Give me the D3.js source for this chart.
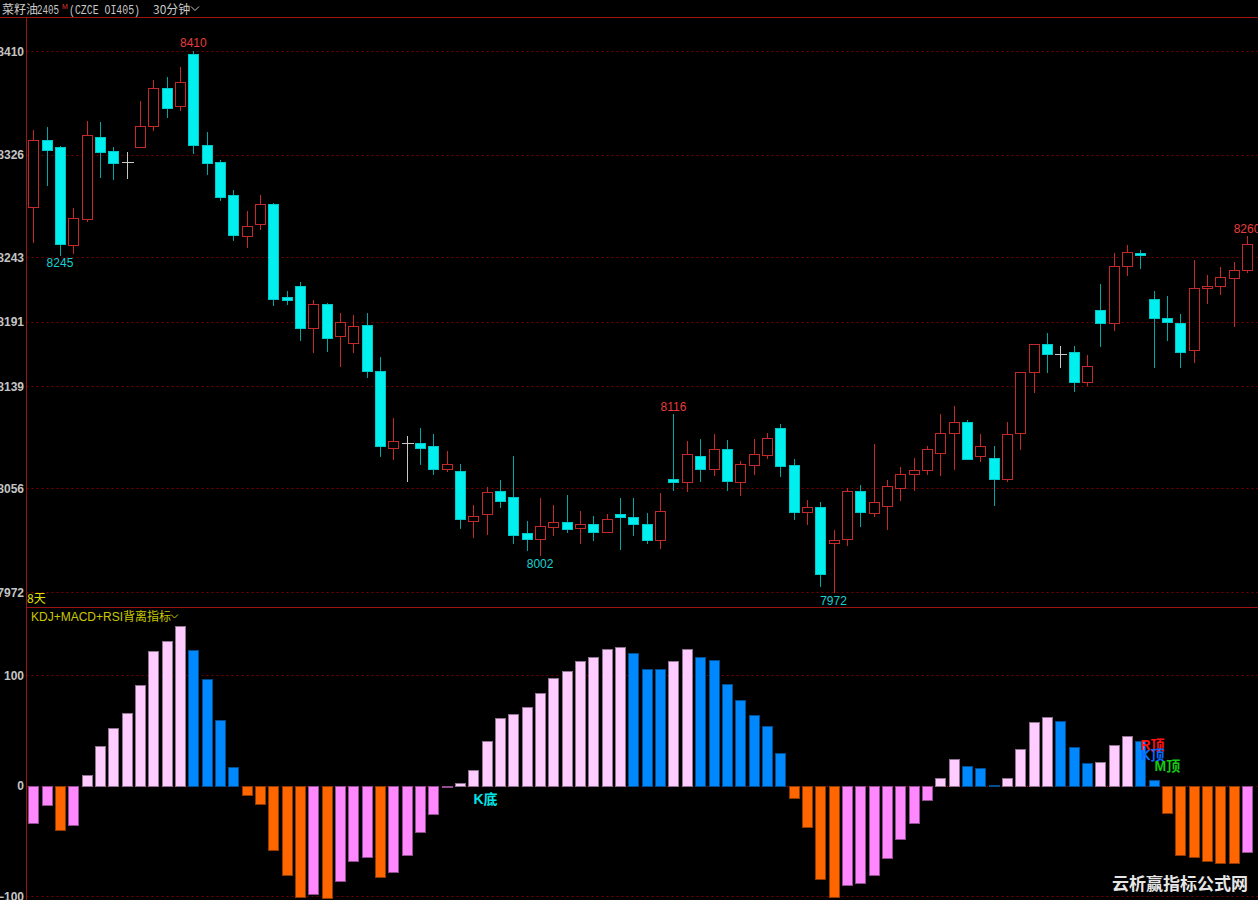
<!DOCTYPE html>
<html><head><meta charset="utf-8">
<script src="https://cdn.jsdelivr.net/npm/d3@7"></script>
<style>html,body{margin:0;padding:0;background:#000;overflow:hidden}</style>
</head><body>
<svg id="c" width="1258" height="900"></svg>
<script>
// ---- data ----
const opens  = [8284,8338,8332,8253,8274,8340,8329,8320,8332,8349,8380,8365,8407,8334,8320,8293,8260,8270,8286,8211,8220,8186,8205,8179,8174,8188,8151,8089,8093,8093,8090,8072,8070,8030,8035,8054,8049,8020,8015,8025,8029,8024,8027,8021,8035,8033,8027,8014,8064,8061,8082,8072,8088,8061,8075,8083,8105,8075,8037,8041,8012,8015,8054,8036,8042,8056,8068,8071,8085,8101,8110,8082,8081,8064,8101,8150,8173,8165,8166,8142,8200,8190,8236,8246,8209,8194,8190,8168,8218,8220,8226,8233];
const highs  = [8346,8348,8333,8283,8353,8352,8332,8328,8369,8386,8389,8397,8410,8344,8322,8297,8280,8293,8287,8216,8223,8208,8206,8198,8196,8198,8162,8113,8098,8105,8100,8086,8076,8043,8057,8063,8082,8030,8048,8043,8051,8038,8034,8035,8048,8048,8036,8052,8116,8094,8096,8100,8095,8078,8096,8101,8108,8080,8047,8045,8022,8056,8059,8092,8063,8073,8081,8090,8116,8123,8111,8100,8090,8110,8150,8173,8182,8171,8171,8164,8221,8246,8253,8249,8216,8212,8197,8241,8229,8235,8239,8260];
const lows   = [8255,8301,8245,8246,8272,8308,8306,8307,8332,8346,8356,8362,8327,8310,8289,8257,8251,8266,8204,8205,8176,8166,8167,8155,8166,8146,8082,8080,8062,8076,8068,8070,8024,8017,8019,8041,8012,8006,8002,8018,8021,8012,8014,8021,8007,8018,8012,8008,8055,8054,8062,8067,8055,8051,8068,8081,8066,8031,8027,7977,7972,8010,8026,8034,8023,8047,8055,8068,8067,8072,8080,8078,8043,8062,8088,8134,8150,8154,8135,8140,8171,8184,8229,8234,8154,8176,8154,8158,8206,8213,8187,8231];
const closes = [8338,8330,8254,8275,8342,8328,8319,8320,8349,8380,8364,8385,8334,8319,8292,8261,8268,8286,8209,8208,8186,8205,8178,8191,8187,8151,8090,8094,8093,8089,8072,8076,8031,8034,8053,8046,8018,8015,8026,8029,8023,8027,8021,8031,8033,8027,8014,8038,8061,8084,8072,8088,8062,8076,8084,8097,8074,8037,8041,7987,8014,8054,8037,8045,8058,8068,8071,8088,8101,8110,8080,8090,8064,8100,8150,8173,8165,8165,8142,8155,8190,8236,8247,8245,8194,8191,8166,8218,8220,8227,8233,8254];
const signal = [-33.8,-18.1,-40.4,-36.2,9.4,36,52,66.1,91.5,122.3,130.8,144.9,122.9,96.4,59.5,17.2,-9,-16.9,-58.5,-80.9,-100.8,-98.7,-102,-86.3,-68.2,-64.6,-82.7,-78.5,-63.4,-42.2,-25.9,-1.2,2.2,14.2,40.2,61.6,64.9,71,83.7,97.6,104.2,112.7,116.8,123.6,125.4,119.9,106,105.4,112.7,124.1,116.8,114.2,92.1,77.6,63.8,54.1,29.3,-10.9,-38,-84.5,-101.4,-90,-88.1,-80.9,-65.8,-48.3,-34.1,-13.3,7,24.5,17.8,16,0.6,7,33.5,57.7,62.5,58.3,35.3,20.5,21.5,37.1,45,40.8,5.2,-25.4,-62.8,-64.6,-68.8,-70,-70.6,-60.3];
const priceTicks = [8410,8326,8243,8191,8139,8056,7972];
const signalTicks = [100,0,-100];
const highMarks = [12,48,91];
const lowMarks = [2,38,60];
const signalMarks = [
  {i:33, text:"K底", kind:"K底"},
  {i:83, text:"R顶", kind:"R顶"},
  {i:83, text:"K顶", kind:"K顶"},
  {i:84, text:"M顶", kind:"M顶"}
];

// ---- drawing ----
const svg = d3.select("#c");
const W = 1258, H = 900;
const AXIS_X = 26.5;
svg.append("rect").attr("width",W).attr("height",H).attr("fill","#000");

const n = opens.length;
const x = d3.scaleLinear().domain([0, n-1]).range([33.3, 1247]);
const y = d3.scaleLinear().domain([7972, 8410]).range([592.3, 50.7]);
const ys = d3.scaleLinear().domain([-100, 100]).range([895.7, 675.3]);

const gridCol = "#7a0000", lineCol = "#9a1414";

// grids
const g = svg.append("g");
g.selectAll("line.pg").data(priceTicks).join("line")
  .attr("x1", AXIS_X).attr("x2", W)
  .attr("y1", d => Math.round(y(d))+0.5).attr("y2", d => Math.round(y(d))+0.5)
  .attr("stroke", gridCol).attr("stroke-dasharray","2,3");
g.selectAll("line.sg").data(signalTicks).join("line")
  .attr("x1", AXIS_X).attr("x2", W)
  .attr("y1", d => Math.round(ys(d))+0.5).attr("y2", d => Math.round(ys(d))+0.5)
  .attr("stroke", gridCol).attr("stroke-dasharray","2,3");

// axes labels (left)
const axisFont = "bold 12px 'Liberation Sans', Arial, sans-serif";
const yAxis = d3.axisLeft(y).tickValues(priceTicks).tickSize(0).tickPadding(0).tickFormat(d3.format("d"));
const ya = svg.append("g").attr("transform", `translate(24,0)`).call(yAxis);
ya.select(".domain").remove();
ya.selectAll("text").attr("fill","#c4c4c4").style("font", axisFont).attr("dy","0.36em");
const sAxis = d3.axisLeft(ys).tickValues(signalTicks).tickSize(0).tickPadding(0).tickFormat(d3.format("d"));
const sa = svg.append("g").attr("transform", `translate(24,0)`).call(sAxis);
sa.select(".domain").remove();
sa.selectAll("text").attr("fill","#c4c4c4").style("font", axisFont).attr("dy","0.36em");

// frame lines
svg.append("line").attr("x1",0).attr("x2",W).attr("y1",17.5).attr("y2",17.5).attr("stroke",lineCol);
svg.append("line").attr("x1",AXIS_X).attr("x2",W).attr("y1",607.5).attr("y2",607.5).attr("stroke",lineCol);
svg.append("line").attr("x1",AXIS_X).attr("x2",AXIS_X).attr("y1",17.5).attr("y2",H).attr("stroke",lineCol);

// candles
const RED = "#c42a2a", CY = "#00f0f0", CYW = "#00a6a6", DOJI = "#c8c8c8";
const candles = d3.range(n).map(i => ({i, o:opens[i], h:highs[i], l:lows[i], c:closes[i]}));
const cg = svg.append("g").attr("shape-rendering","crispEdges");
const cx = i => Math.round(x(i)) + 0.5;
candles.forEach(d => {
  const X = cx(d.i);
  const up = d.c > d.o, dn = d.c < d.o;
  const col = up ? RED : dn ? CYW : DOJI;
  const top = Math.round(y(Math.max(d.o,d.c))) + 0.5;
  const bot = Math.round(y(Math.min(d.o,d.c))) + 0.5;
  cg.append("line").attr("x1",X).attr("x2",X)
    .attr("y1", Math.round(y(d.h))).attr("y2", Math.round(y(d.l))+1)
    .attr("stroke", col);
  if (up) {
    cg.append("rect").attr("x",X-5).attr("y",top).attr("width",10).attr("height",Math.max(1,bot-top))
      .attr("fill","#000").attr("stroke",RED);
  } else if (dn) {
    cg.append("rect").attr("x",X-5).attr("y",top).attr("width",10).attr("height",Math.max(1,bot-top))
      .attr("fill",CY).attr("stroke","#00c8c8");
  } else {
    cg.append("line").attr("x1",X-6).attr("x2",X+6).attr("y1",top).attr("y2",top).attr("stroke",DOJI);
  }
});

// high / low marks
const markFont = "12px 'Liberation Sans', Arial, sans-serif";
svg.selectAll("text.hm").data(highMarks).join("text")
  .attr("x", i => x(i)).attr("y", i => y(highs[i]) - 3.5)
  .attr("text-anchor","middle").attr("fill","#e83c3c").style("font", markFont)
  .text(i => highs[i]);
svg.selectAll("text.lm").data(lowMarks).join("text")
  .attr("x", i => x(i)).attr("y", i => y(lows[i]) + 12.5)
  .attr("text-anchor","middle").attr("fill","#18d0d0").style("font", markFont)
  .text(i => lows[i]);

// signal bars
const barColor = (v, p) => {
  const rising = (p === undefined) ? true : v >= p;
  if (v >= 0) return rising ? "#ffccff" : "#0088ff";
  return rising ? "#ff88ff" : "#ff6600";
};
const bg = svg.append("g").attr("shape-rendering","crispEdges");
const zeroY = Math.round(ys(0)) + 0.5;
signal.forEach((v, i) => {
  const col = barColor(v, signal[i-1]);
  const vy = Math.round(ys(v)) + 0.5;
  const top = Math.min(vy, zeroY), bot = Math.max(vy, zeroY);
  bg.append("rect").attr("x", cx(i)-5).attr("y", top).attr("width",10).attr("height", Math.max(1, bot-top))
    .attr("fill", col).attr("stroke", d3.color(col).darker(1.6));
});

// signal labels
const sigStyle = {
  "K底": {col:"#00e6e6", dy: 18},
  "R顶": {col:"#ff1414", dy: -36},
  "K顶": {col:"#0a6cff", dy: -26},
  "M顶": {col:"#14c814", dy: -15}
};
svg.selectAll("text.sig").data(signalMarks).join("text")
  .attr("x", d => cx(d.i)).attr("y", d => ys(0) + sigStyle[d.kind].dy)
  .attr("fill", d => sigStyle[d.kind].col)
  .style("font","bold 14px 'Liberation Sans','Noto Sans CJK SC',sans-serif")
  .text(d => d.text);

// header
const hf = "12px 'Noto Sans CJK SC', sans-serif";
const mf = "12px 'Liberation Mono', monospace";
svg.append("text").attr("x",2).attr("y",13.5).attr("fill","#c8c8c8").style("font",hf).text("菜籽油");
svg.append("text").attr("x",37).attr("y",13.5).attr("fill","#c8c8c8").style("font",mf)
  .attr("textLength",22).attr("lengthAdjust","spacingAndGlyphs").text("2405");
svg.append("text").attr("x",62).attr("y",8.5).attr("fill","#e03030").style("font","7px 'Liberation Sans',sans-serif").text("M");
svg.append("text").attr("x",69).attr("y",13.5).attr("fill","#c8c8c8").style("font",mf)
  .attr("textLength",71).attr("lengthAdjust","spacingAndGlyphs").text("(CZCE OI405)");
svg.append("text").attr("x",153).attr("y",13.5).attr("fill","#c8c8c8").style("font",hf).text("30分钟");
svg.append("path").attr("d","M191,6.5 L195,10.5 L199,6.5").attr("fill","none").attr("stroke","#c8c8c8");

// panel captions
svg.append("text").attr("x",27).attr("y",603).attr("fill","#e0e000").style("font","12px 'Noto Sans CJK SC', sans-serif").text("8天");
svg.append("text").attr("x",31).attr("y",621).attr("fill","#c8c800").style("font","12px 'Liberation Sans','Noto Sans CJK SC', sans-serif").text("KDJ+MACD+RSI背离指标");
svg.append("path").attr("d","M171,614.5 L174.5,618 L178,614.5").attr("fill","none").attr("stroke","#c8c800");

// watermark
svg.append("text").attr("x",1112).attr("y",890).attr("fill","#e6e6e6")
  .style("font","bold 17px 'Noto Sans CJK SC', sans-serif").text("云析赢指标公式网");
</script>
</body></html>
